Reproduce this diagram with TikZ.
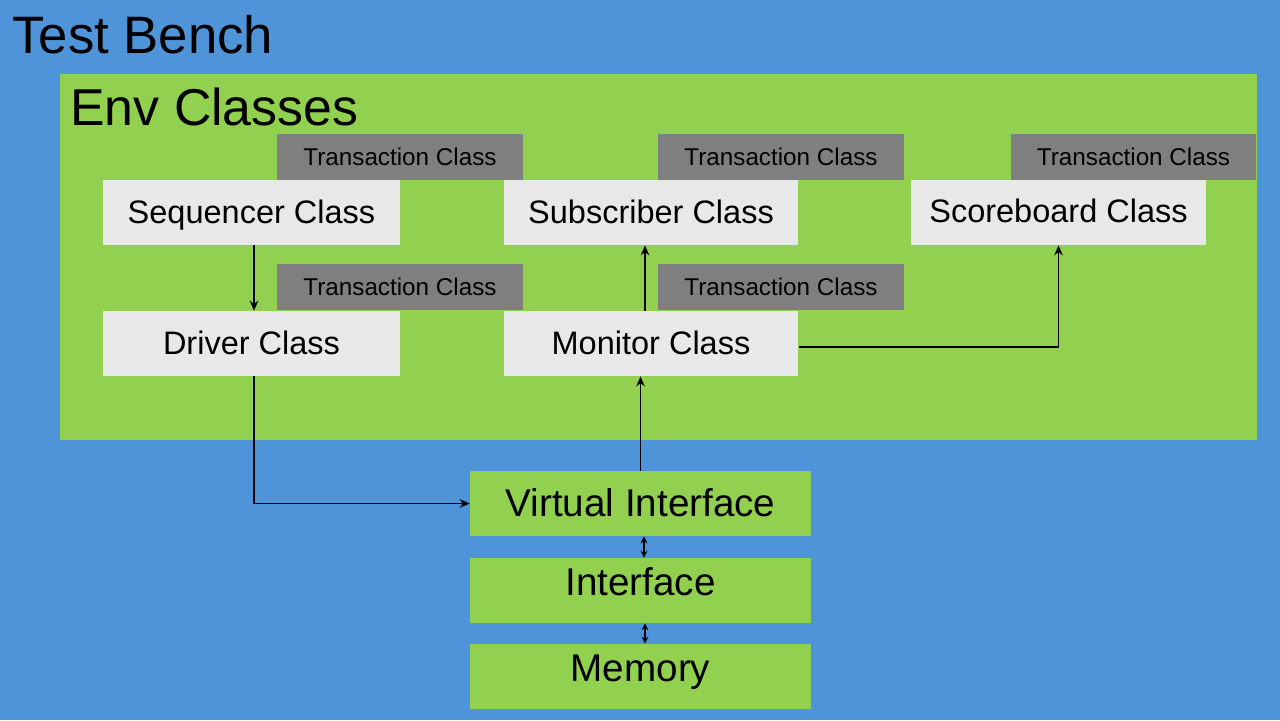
\documentclass[tikz,border=0pt]{standalone}
\usepackage{fontspec}
\setmainfont{Liberation Sans}
\usetikzlibrary{arrows.meta}
\definecolor{benchblue}{RGB}{79,148,217}
\definecolor{envgreen}{RGB}{146,208,80}
\definecolor{tagGrey}{RGB}{127,127,127}
\definecolor{classGrey}{RGB}{232,232,232}
\begin{document}
\begin{tikzpicture}[x=0.02cm,y=-0.02cm,
		classbox/.style={fill=classGrey,minimum width=5.94cm,minimum height=1.3cm,inner sep=0pt,text height=0.42cm,text depth=0pt,font=\fontsize{18.5}{20}\selectfont},
		tagbox/.style={fill=tagGrey,minimum width=4.92cm,minimum height=0.92cm,inner sep=0pt,text height=0.32cm,text depth=0pt,font=\fontsize{13.8}{15}\selectfont},
		ifacebox/.style={fill=envgreen,minimum width=6.82cm,minimum height=1.3cm,inner sep=0pt,text height=0.5cm,text depth=0pt,font=\fontsize{22}{24}\selectfont},
		flow/.style={line width=1.1pt,-{Stealth[length=2mm,width=1.7mm]}},
		both/.style={line width=1.1pt,{Stealth[length=1.4mm,width=1.4mm]}-{Stealth[length=1.4mm,width=1.4mm]}}]
		% background
		\fill[benchblue] (0,0) rectangle (1280,720);
		\useasboundingbox (0,0) rectangle (1280,720);
		\node[anchor=base west,inner sep=0pt,font=\fontsize{30}{32}\selectfont] (bench) at(12,53){Test Bench};
		\fill[envgreen] (60,74) rectangle (1257,440);
		\node[anchor=base west,inner sep=0pt,font=\fontsize{29.5}{32}\selectfont] (env) at(70,125){Env Classes};
		% transaction tags
		\foreach \x/\y/\n in {400/157/t1,781/157/t2,1133.5/157/t3,400/287/t4,781/287/t5}{
			\node[tagbox] (\n) at(\x,\y){Transaction Class};
		}
		% classes
		\node[classbox] (seq) at(251.5,212.5){Sequencer Class};
		\node[classbox,minimum width=5.9cm] (sub) at(651,212.5){Subscriber Class};
		\node[classbox,minimum width=5.9cm,text height=0.38cm] (score) at(1058.5,212.5){Scoreboard Class};
		\node[classbox] (drv) at(251.5,343.5){Driver Class};
		\node[classbox,minimum width=5.9cm] (mon) at(651,343.5){Monitor Class};
		% interfaces
		\node[ifacebox] (vif) at(640.5,503.5){Virtual Interface};
		\node[ifacebox,text height=0.18cm] (ifc) at(640.5,590.5){Interface};
		\node[ifacebox,text height=0.18cm] (mem) at(640.5,676.5){Memory};
		% connectors
		\draw[flow] ([xshift=0.05cm]seq.south)--([xshift=0.05cm]drv.north);
		\draw[flow] ([xshift=-0.12cm]mon.north)--([xshift=-0.12cm]sub.north|-sub.south);
		\draw[flow] ([yshift=-0.07cm]mon.east)-|(score.south);
		\draw[flow] ([xshift=0.05cm]drv.south)|-(vif.west);
		\draw[flow] (vif.north)--(vif.north|-mon.south);
		\draw[both] ([xshift=0.07cm]vif.south)--([xshift=0.07cm]ifc.north);
		\draw[both] ([xshift=0.09cm]ifc.south)--([xshift=0.09cm]mem.north);
	\end{tikzpicture}
\end{document}
